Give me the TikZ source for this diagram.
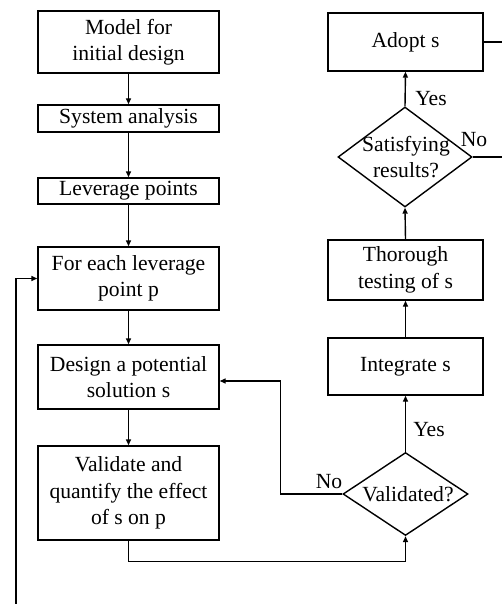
\documentclass[tikz,border=0pt]{standalone}
\usepackage{fontspec}
\setmainfont{Liberation Serif}
\usetikzlibrary{arrows.meta,shapes.geometric}
\begin{document}
\begin{tikzpicture}[x=1pt,y=-1pt,
 box/.style={draw,line width=1.4pt,inner sep=0pt,align=center,font=\fontsize{21.6}{26.5}\selectfont},
 dia/.style={draw,diamond,line width=1.4pt,inner sep=0pt},
 txt/.style={align=center,font=\fontsize{21.6}{26.5}\selectfont,inner sep=0pt},
 arr/.style={line width=1.4pt,-{Triangle[length=6pt,width=5pt]}},
 ln/.style={line width=1.4pt}]
\useasboundingbox (0,0) rectangle (502,604);
% left column
\node[box,minimum width=181pt,minimum height=62pt] (m1) at (128.5,42) {Model for\\initial design};
\node[box,minimum width=181pt,minimum height=27pt] (sys) at (128.5,118.5) {System analysis};
\node[box,minimum width=181pt,minimum height=26pt] (lev) at (128.5,191) {Leverage points};
\node[box,minimum width=181pt,minimum height=63pt] (fe) at (128.5,278.5) {For each leverage\\point p};
\node[box,minimum width=181pt,minimum height=64pt] (des) at (128.5,377) {Design a potential\\solution s};
\node[box,minimum width=181pt,minimum height=94pt] (val) at (128.5,493) {Validate and\\quantify the effect\\of s on p};
% right column
\node[box,minimum width=155pt,minimum height=58pt] (ad) at (405.5,42) {Adopt s};
\node[dia,minimum width=134pt,minimum height=100pt] (sat) at (405,157) {};
\node[txt] (satt) at (406,157) {Satisfying\\results?};
\node[box,minimum width=155pt,minimum height=60pt] (th) at (405.5,270) {Thorough\\testing of s};
\node[box,minimum width=155pt,minimum height=57pt] (int) at (405.5,366.5) {Integrate s};
\node[dia,minimum width=125pt,minimum height=83pt] (vq) at (405.5,494) {};
\node[txt] (vqt) at (408,494) {Validated?};
% labels
\node[txt] (y1) at (431,99) {Yes};
\node[txt] (n1) at (474,140) {No};
\node[txt] (y2) at (429,430) {Yes};
\node[txt] (n2) at (329,482) {No};
% connectors left
\draw[arr] (m1) -- (sys);
\draw[arr] (sys) -- (lev);
\draw[arr] (lev) -- (fe);
\draw[arr] (fe) -- (des);
\draw[arr] (des) -- (val);
\draw[arr] (val.south) -- ++(0,21) -| (vq.south);
\draw[arr] (vq.west) -- ++(-62,0) |- ([yshift=-4pt]des.east);
% right column
\draw[arr] (vq.north) -- (int.south);
\draw[arr] (int) -- (th);
\draw[arr] (th.north) -- (sat.south);
\draw[arr] (sat.north) -- (ad.south);
% loop back
\draw[ln] (sat.east) -- (515,157);
\draw[arr] (ad.east) -- (515,42) -- (515,604.2) -- (16,604.2) |- (fe.west);
\end{tikzpicture}
\end{document}
